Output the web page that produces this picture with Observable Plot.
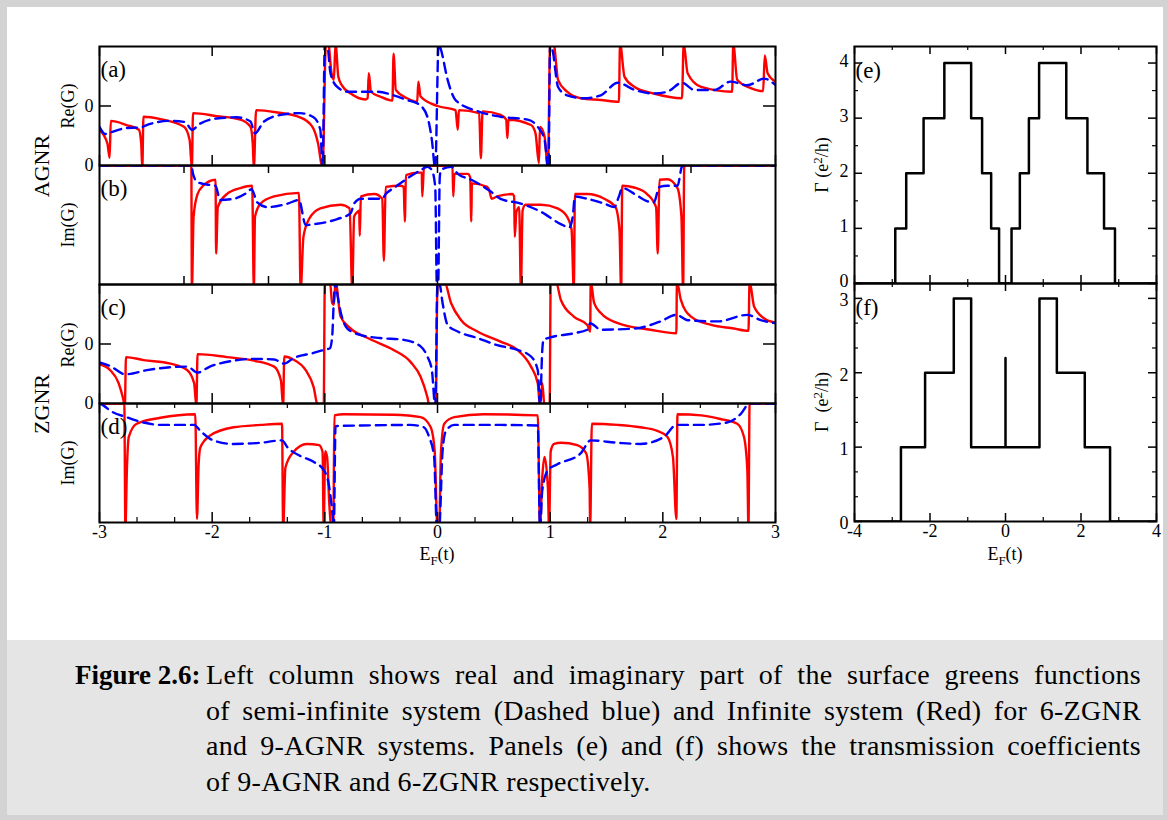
<!DOCTYPE html>
<html><head><meta charset="utf-8">
<script src="https://cdn.jsdelivr.net/npm/d3@7"></script>
<script src="https://cdn.jsdelivr.net/npm/@observablehq/plot@0.6"></script>
<style>
html,body{margin:0;padding:0;}
body{width:1168px;height:820px;background:#d3d3d3;position:relative;overflow:hidden;font-family:"Liberation Serif","Times New Roman",serif;color:#000;}
#fig{position:absolute;left:7px;top:7px;width:1156px;height:633px;background:#fff;}
#cap{position:absolute;left:7px;top:640px;width:1156px;height:175px;background:#e5e5e5;}
.lab{position:absolute;white-space:nowrap;line-height:1;transform:translate(-50%,-50%);}
.rot{transform:translate(-50%,-50%) rotate(-90deg);}
.lab sub{font-size:0.72em;vertical-align:-0.35em;line-height:0;}
.lab sup{font-size:0.72em;vertical-align:0.45em;line-height:0;}
.cl{position:absolute;white-space:nowrap;font-size:28px;line-height:36px;height:36px;letter-spacing:0.3px;}
.just{text-align:justify;text-align-last:justify;white-space:normal;}
svg{position:absolute;}
</style>
</head><body>
<div id="fig"></div>
<div id="cap"></div>
<script>
// ---------------- data ----------------
// Left column: x = E_F (t); y in panel units
const aRed = [[-3.00,-0.40],[-2.93,-0.63],[-2.91,-0.87],[-2.90,-0.25],[-2.76,-0.32],[-2.65,-0.40],[-2.63,-0.63],[-2.62,-1.05],[-2.61,-0.18],[-2.46,-0.22],[-2.25,-0.35],[-2.20,-0.57],[-2.18,-1.05],[-2.17,-0.12],[-1.96,-0.17],[-1.75,-0.23],[-1.66,-0.35],[-1.64,-0.63],[-1.63,-1.05],[-1.61,-0.07],[-1.42,-0.11],[-1.22,-0.19],[-1.11,-0.35],[-1.06,-0.63],[-1.02,-1.05],[-0.99,1.05],[-0.97,1.05],[-0.94,0.55],[-0.92,0.44],[-0.905,1.05],[-0.88,0.49],[-0.85,0.35],[-0.77,0.21],[-0.64,0.11],[-0.62,0.13],[-0.61,0.55],[-0.59,0.24],[-0.51,0.16],[-0.40,0.09],[-0.39,0.88],[-0.37,0.27],[-0.27,0.13],[-0.18,0.07],[-0.17,0.41],[-0.15,0.16],[0.00,0.00],[0.16,-0.07],[0.18,-0.40],[0.19,-0.07],[0.37,-0.12],[0.385,-0.88],[0.40,-0.09],[0.56,-0.15],[0.61,-0.23],[0.62,-0.54],[0.63,-0.23],[0.83,-0.32],[0.87,-0.46],[0.90,-0.96],[0.91,-0.35],[0.95,-0.51],[0.98,-1.05],[1.00,1.05],[1.03,1.05],[1.07,0.44],[1.15,0.24],[1.27,0.13],[1.45,0.10],[1.61,0.07],[1.62,1.05],[1.66,0.49],[1.75,0.32],[1.92,0.21],[2.17,0.13],[2.185,1.05],[2.22,0.55],[2.34,0.32],[2.615,0.24],[2.625,1.05],[2.66,0.44],[2.78,0.30],[2.89,0.25],[2.905,0.85],[2.93,0.55],[3.00,0.41]];
const aBlue = [[-3.00,-0.35],[-2.95,-0.47],[-2.88,-0.43],[-2.76,-0.37],[-2.64,-0.36],[-2.55,-0.30],[-2.37,-0.25],[-2.24,-0.27],[-2.18,-0.40],[-2.11,-0.30],[-1.96,-0.21],[-1.78,-0.19],[-1.66,-0.26],[-1.62,-0.46],[-1.54,-0.26],[-1.39,-0.15],[-1.22,-0.12],[-1.10,-0.19],[-1.04,-0.40],[-1.02,-1.05],[-1.00,1.05],[-0.98,1.05],[-0.95,0.55],[-0.89,0.32],[-0.80,0.24],[-0.53,0.24],[-0.39,0.18],[-0.27,0.10],[-0.16,0.02],[-0.09,-0.18],[-0.05,-0.57],[-0.02,-1.05],[0.01,1.05],[0.03,0.95],[0.09,0.44],[0.16,0.10],[0.36,-0.09],[0.56,-0.18],[0.80,-0.23],[0.89,-0.35],[0.95,-0.57],[0.985,-1.05],[1.00,1.05],[1.02,0.95],[1.07,0.32],[1.15,0.18],[1.30,0.13],[1.45,0.18],[1.60,0.39],[1.75,0.27],[1.92,0.21],[2.04,0.24],[2.17,0.39],[2.28,0.27],[2.46,0.27],[2.60,0.41],[2.75,0.35],[2.90,0.46],[3.00,0.35]];
const bRed = [[-3.00,0],[-2.185,0],[-2.18,-1.05],[-2.165,-0.43],[-2.13,-0.24],[-2.08,-0.17],[-1.97,-0.12],[-1.965,-0.74],[-1.95,-0.35],[-1.87,-0.24],[-1.75,-0.19],[-1.645,-0.17],[-1.63,-1.05],[-1.62,-0.43],[-1.57,-0.32],[-1.45,-0.26],[-1.23,-0.23],[-1.215,-1.05],[-1.19,-0.60],[-1.14,-0.45],[-1.04,-0.36],[-0.86,-0.33],[-0.78,-0.36],[-0.757,-1.05],[-0.74,-0.43],[-0.71,-0.39],[-0.695,-0.38],[-0.69,-0.59],[-0.68,-0.26],[-0.56,-0.24],[-0.49,-0.28],[-0.476,-0.80],[-0.46,-0.18],[-0.33,-0.17],[-0.30,-0.18],[-0.29,-0.47],[-0.28,-0.08],[-0.165,-0.06],[-0.14,-0.06],[-0.135,-0.26],[-0.12,-0.01],[0.00,0],[0.12,-0.01],[0.133,-0.01],[0.14,-0.26],[0.15,-0.07],[0.27,-0.07],[0.29,-0.10],[0.30,-0.47],[0.305,-0.15],[0.44,-0.18],[0.46,-0.21],[0.48,-0.28],[0.53,-0.26],[0.665,-0.24],[0.68,-0.26],[0.686,-0.60],[0.70,-0.39],[0.725,-0.35],[0.74,-1.05],[0.755,-0.38],[0.78,-0.33],[0.92,-0.33],[1.065,-0.36],[1.15,-0.43],[1.19,-0.54],[1.21,-1.05],[1.22,-0.24],[1.33,-0.24],[1.48,-0.28],[1.58,-0.35],[1.615,-0.54],[1.63,-1.05],[1.64,-0.17],[1.745,-0.185],[1.86,-0.24],[1.94,-0.35],[1.955,-0.74],[1.97,-0.12],[2.04,-0.115],[2.13,-0.19],[2.165,-0.43],[2.18,-1.05],[2.19,0],[3.00,0]];
const bBlue = [[-3.00,0],[-2.185,0],[-2.17,-0.07],[-2.13,-0.14],[-2.05,-0.16],[-1.97,-0.17],[-1.93,-0.29],[-1.81,-0.28],[-1.71,-0.24],[-1.65,-0.20],[-1.60,-0.31],[-1.51,-0.35],[-1.33,-0.32],[-1.23,-0.29],[-1.17,-0.50],[-1.07,-0.49],[-0.89,-0.45],[-0.77,-0.40],[-0.74,-0.32],[-0.68,-0.28],[-0.49,-0.28],[-0.46,-0.24],[-0.39,-0.19],[-0.27,-0.11],[-0.15,-0.04],[-0.09,-0.01],[-0.05,-0.04],[-0.02,-0.18],[-0.005,-1.05],[0.005,-1.05],[0.02,-0.10],[0.03,-0.04],[0.12,-0.01],[0.18,-0.07],[0.30,-0.12],[0.46,-0.21],[0.56,-0.28],[0.74,-0.32],[0.92,-0.39],[1.09,-0.49],[1.17,-0.52],[1.20,-0.43],[1.22,-0.26],[1.33,-0.28],[1.48,-0.32],[1.57,-0.35],[1.61,-0.26],[1.64,-0.19],[1.75,-0.24],[1.86,-0.30],[1.92,-0.31],[1.97,-0.18],[2.04,-0.17],[2.13,-0.17],[2.17,-0.01],[2.19,0],[3.00,0]];
const cRed = [[-3.00,-0.34],[-2.905,-0.44],[-2.83,-0.66],[-2.79,-0.92],[-2.775,-1.05],[-2.765,-0.22],[-2.61,-0.27],[-2.37,-0.33],[-2.22,-0.44],[-2.16,-0.66],[-2.14,-1.05],[-2.13,-0.17],[-1.87,-0.22],[-1.63,-0.28],[-1.45,-0.38],[-1.39,-0.61],[-1.37,-1.05],[-1.36,-0.21],[-1.28,-0.26],[-1.17,-0.44],[-1.10,-0.72],[-1.06,-1.05],[-1.01,-1.05],[-1.00,1.05],[-0.955,1.05],[-0.935,0.69],[-0.92,0.66],[-0.905,1.05],[-0.86,0.46],[-0.77,0.26],[-0.62,0.10],[-0.39,-0.10],[-0.24,-0.30],[-0.15,-0.55],[-0.09,-0.89],[-0.07,-1.05],[-0.015,-1.05],[0.00,1.05],[0.06,1.05],[0.12,0.69],[0.21,0.40],[0.355,0.21],[0.56,0.04],[0.71,-0.10],[0.83,-0.38],[0.89,-0.66],[0.91,-1.05],[0.93,-0.66],[0.95,-1.05],[0.995,-1.05],[1.005,1.05],[1.05,1.05],[1.095,0.74],[1.21,0.46],[1.33,0.32],[1.355,0.21],[1.36,1.05],[1.39,0.69],[1.45,0.52],[1.60,0.35],[1.89,0.24],[2.12,0.18],[2.125,1.05],[2.16,0.74],[2.25,0.46],[2.43,0.32],[2.63,0.26],[2.76,0.22],[2.77,1.05],[2.81,0.63],[2.90,0.43],[3.00,0.36]];
const cBlue = [[-3.00,-0.31],[-2.905,-0.37],[-2.77,-0.51],[-2.58,-0.44],[-2.37,-0.39],[-2.22,-0.38],[-2.13,-0.48],[-2.02,-0.38],[-1.81,-0.28],[-1.63,-0.25],[-1.45,-0.26],[-1.36,-0.33],[-1.28,-0.24],[-1.10,-0.15],[-1.01,-0.10],[-0.955,-0.07],[-0.935,0.12],[-0.92,0.74],[-0.905,1.05],[-0.89,0.85],[-0.87,0.63],[-0.80,0.26],[-0.68,0.15],[-0.51,0.10],[-0.30,0.07],[-0.15,-0.04],[-0.09,-0.21],[-0.05,-0.44],[-0.02,-1.05],[0.00,1.05],[0.02,1.0],[0.045,0.69],[0.09,0.32],[0.18,0.21],[0.355,0.10],[0.53,-0.02],[0.71,-0.10],[0.83,-0.21],[0.89,-0.44],[0.91,-1.05],[0.93,-0.10],[0.94,0.07],[0.98,0.10],[1.21,0.18],[1.33,0.24],[1.355,0.35],[1.45,0.24],[1.75,0.26],[1.98,0.38],[2.12,0.49],[2.22,0.40],[2.49,0.38],[2.75,0.49],[2.87,0.40],[3.00,0.35]];
const dRed = [[-3.00,0],[-2.78,0],[-2.77,-1.05],[-2.757,-0.56],[-2.74,-0.28],[-2.67,-0.17],[-2.46,-0.12],[-2.15,-0.09],[-2.135,-0.97],[-2.12,-0.51],[-2.105,-0.37],[-2.02,-0.27],[-1.81,-0.20],[-1.57,-0.18],[-1.38,-0.17],[-1.37,-1.05],[-1.35,-0.54],[-1.28,-0.41],[-1.16,-0.34],[-1.05,-0.35],[-1.02,-0.41],[-1.01,-1.05],[-0.997,-0.40],[-0.98,-0.45],[-0.96,-0.85],[-0.94,-1.05],[-0.925,-1.05],[-0.915,-0.10],[-0.83,-0.09],[-0.39,-0.095],[-0.15,-0.115],[-0.06,-0.20],[-0.025,-0.40],[0.00,-1.05],[0.015,-1.05],[0.03,-0.42],[0.06,-0.17],[0.15,-0.115],[0.41,-0.09],[0.89,-0.10],[0.91,-1.05],[0.93,-0.62],[0.95,-0.45],[0.98,-0.71],[0.99,-1.05],[1.005,-0.40],[1.035,-0.34],[1.095,-0.33],[1.24,-0.35],[1.32,-0.42],[1.35,-0.71],[1.355,-1.05],[1.37,-0.17],[1.60,-0.18],[1.80,-0.20],[1.95,-0.23],[2.04,-0.28],[2.09,-0.45],[2.12,-0.97],[2.13,-0.09],[2.34,-0.10],[2.51,-0.13],[2.66,-0.17],[2.72,-0.28],[2.75,-0.56],[2.76,-1.05],[2.77,0],[3.00,0]];
const dBlue = [[-3.00,0],[-2.96,-0.02],[-2.905,-0.06],[-2.76,-0.115],[-2.61,-0.16],[-2.46,-0.18],[-2.16,-0.18],[-2.105,-0.23],[-1.99,-0.31],[-1.81,-0.34],[-1.57,-0.33],[-1.38,-0.31],[-1.33,-0.37],[-1.22,-0.44],[-1.10,-0.49],[-1.01,-0.56],[-0.965,-0.68],[-0.935,-0.90],[-0.92,-1.05],[-0.905,-0.19],[-0.68,-0.185],[-0.24,-0.18],[-0.12,-0.20],[-0.075,-0.28],[-0.03,-0.45],[-0.005,-1.05],[0.015,-1.05],[0.045,-0.40],[0.075,-0.23],[0.15,-0.18],[0.56,-0.18],[0.89,-0.185],[0.91,-1.05],[0.93,-0.73],[0.98,-0.56],[1.065,-0.51],[1.27,-0.42],[1.36,-0.31],[1.60,-0.33],[1.80,-0.34],[2.01,-0.28],[2.12,-0.18],[2.34,-0.18],[2.57,-0.16],[2.69,-0.09],[2.77,0],[3.00,0]];

// Right column: transmission steps (x = E_F, y = Gamma), drawn step-after
const eE = [-4,-2.92,-2.63,-2.17,-1.62,-0.91,-0.62,-0.38,-0.17,0.16,0.38,0.62,0.89,1.61,2.17,2.61,2.90,4];
const eG = [0,1,2,3,4,3,2,1,0,1,2,3,4,3,2,1,0,0];
const fE = [-4,-2.77,-2.13,-1.37,-0.91,0,0,0.90,1.36,2.10,2.77,4];
const fG = [0,1,2,3,1,2.2,1,3,2,1,0,0];

// Ticks and labels
const leftXMajor = [-3,-2,-1,0,1,2,3];
const leftXMinor = [-2.667,-2.333,-1.667,-1.333,-0.667,-0.333,0.333,0.667,1.333,1.667,2.333,2.667];
const bXTicks = [-2.25,-1.5,-0.75,0,0.75,1.5,2.25];
const leftXLabels = ["-3","-2","-1","0","1","2","3"];
const reYTicks = [0];
const reYTickVals = [0,-1];
const reYTickText = ["0","0"];
const rightXMajor = [-4,-2,0,2,4];
const rightXMinor = [-3,-1,1,3];
const rightXLabels = ["-4","-2","0","2","4"];
const eYMajor = [0,1,2,3,4];
const eYMinor = [0.5,1.5,2.5,3.5];
const fYMajor = [0,1,2,3];
const fYMinor = [0.333,0.667,1.333,1.667,2.333,2.667];
const panelLabels = ["(a)","(b)","(c)","(d)","(e)","(f)"];
const sideTitles = ["AGNR","ZGNR"];
const leftYTitles = ["Re(G)","Im(G)","Re(G)","Im(G)"];
const rightYTitles = ["\u0393 (e<sup>2</sup>/h)","\u0393&nbsp;&nbsp;(e<sup>2</sup>/h)"];
const xTitle = "E<sub>F</sub>(t)";
const captionHead = "Figure 2.6:";
const captionLines = [
  "Left column shows real and imaginary part of the surface greens functions",
  "of semi-infinite system (Dashed blue) and Infinite system (Red) for 6-ZGNR",
  "and 9-AGNR systems. Panels (e) and (f) shows the transmission coefficients",
  "of 9-AGNR and 6-ZGNR respectively."
];

// ---------------- drawing ----------------
const M = 40;
const RED = "#ff0000", BLUE = "#0000ff";
function place(svg, x0, y0) {
  svg.style.left = (x0 - M) + "px";
  svg.style.top = (y0 - M) + "px";
  document.body.appendChild(svg);
}
function xTicks(vals, len, h, sw) {
  return [
    Plot.tickX(vals, {x: d => d, insetTop: h - len, stroke: "#000", strokeWidth: sw}),
    Plot.tickX(vals, {x: d => d, insetBottom: h - len, stroke: "#000", strokeWidth: sw})
  ];
}
function yTicks(vals, len, w, sw) {
  return [
    Plot.tickY(vals, {y: d => d, insetRight: w - len, stroke: "#000", strokeWidth: sw}),
    Plot.tickY(vals, {y: d => d, insetLeft: w - len, stroke: "#000", strokeWidth: sw})
  ];
}
const STYLE = {background: "transparent", fontFamily: '"Liberation Serif", "Times New Roman", serif', fontSize: "18px", color: "#000", overflow: "visible"};

function leftPanel(i, y0, red, blue, yDomain, extra) {
  const w = 676, h = 119;
  const svg = Plot.plot({
    width: w + 2*M, height: h + 2*M, margin: M,
    x: {domain: [-3, 3], axis: null}, y: {domain: yDomain, axis: null},
    style: STYLE,
    marks: [
      Plot.line(red, {x: d => d[0], y: d => d[1], curve: "monotone-x", stroke: RED, strokeWidth: 2.4, clip: true}),
      Plot.line(blue, {x: d => d[0], y: d => d[1], curve: "monotone-x", stroke: BLUE, strokeWidth: 2.4, strokeDasharray: "10,6", clip: true}),
      ...extra(w, h),
      Plot.text([panelLabels[i]], {text: d => d, frameAnchor: "top-left", textAnchor: "start", dx: 1, dy: 14, fontSize: 23}),
      Plot.frame({stroke: "#000", strokeWidth: 2})
    ]
  });
  place(svg, 99, y0);
}

leftPanel(0, 46, aRed, aBlue, [-1, 1], (w, h) => [
  ...xTicks(leftXMajor, 10, h, 1.5), ...yTicks(reYTicks, 12, w, 1.5),
  Plot.text(reYTickVals, {y: d => d, text: (d, j) => reYTickText[j], frameAnchor: "left", textAnchor: "end", dx: -6})
]);
leftPanel(1, 165, bRed, bBlue, [-1, 0], (w, h) => [
  ...xTicks(bXTicks, 8, h, 1.5)
]);
leftPanel(2, 284, cRed, cBlue, [-1, 1], (w, h) => [
  ...xTicks(leftXMajor, 10, h, 1.5), ...yTicks(reYTicks, 12, w, 1.5),
  Plot.text(reYTickVals, {y: d => d, text: (d, j) => reYTickText[j], frameAnchor: "left", textAnchor: "end", dx: -6})
]);
leftPanel(3, 403, dRed, dBlue, [-1, 0], (w, h) => [
  ...xTicks(leftXMajor, 10, h, 1.5), ...xTicks(leftXMinor, 5, h, 1.2),
  Plot.text(leftXMajor, {x: d => d, text: (d, j) => leftXLabels[j], frameAnchor: "bottom", dy: 15})
]);

function rightPanel(i, y0, h, E, G, yMax, yMajor, yMinor, showX, labelNudge) {
  const w = 302;
  const pts = E.map((e, j) => [e, G[j]]);
  const svg = Plot.plot({
    width: w + 2*M, height: h + 2*M, margin: M,
    x: {domain: [-4, 4], axis: null}, y: {domain: [0, yMax], axis: null},
    style: STYLE,
    marks: [
      Plot.line(pts, {x: d => d[0], y: d => d[1], curve: "step-after", stroke: "#000", strokeWidth: 2.5, clip: true}),
      ...xTicks(rightXMajor, 8, h, 1.5), ...xTicks(rightXMinor, 4, h, 1.2),
      ...yTicks(yMajor, 8, w, 1.5), ...yTicks(yMinor, 4, w, 1.2),
      Plot.text(yMajor, {y: d => d, text: d => String(d), frameAnchor: "left", textAnchor: "end", dx: -6, dy: labelNudge}),
      ...(showX ? [Plot.text(rightXMajor, {x: d => d, text: (d, j) => rightXLabels[j], frameAnchor: "bottom", dy: 15})] : []),
      Plot.text([panelLabels[i]], {text: d => d, frameAnchor: "top-left", textAnchor: "start", dx: 1, dy: 15, fontSize: 23}),
      Plot.frame({stroke: "#000", strokeWidth: 2})
    ]
  });
  place(svg, 854, y0);
}
rightPanel(4, 46, 237, eE, eG, 4.3, eYMajor, eYMinor, false, -2);
rightPanel(5, 283, 238, fE, fG, 3.2, fYMajor, fYMinor, true, 2);

// ---------------- HTML labels ----------------
function label(html, x, y, size, rot) {
  const d = document.createElement("div");
  d.className = "lab" + (rot ? " rot" : "");
  d.style.left = x + "px"; d.style.top = y + "px"; d.style.fontSize = size + "px";
  d.innerHTML = html;
  document.body.appendChild(d);
}
label(sideTitles[0], 42, 166, 22, true);
label(sideTitles[1], 42, 404, 22, true);
[106, 225, 345, 463].forEach((y, j) => label(leftYTitles[j], 68, y, 18, true));
label(rightYTitles[0], 822, 165, 18, true);
label(rightYTitles[1], 822, 402, 18, true);
label(xTitle, 437, 554, 18, false);
label(xTitle, 1005, 554, 18, false);

// caption
const head = document.createElement("div");
head.className = "cl"; head.style.left = "75px"; head.style.top = "657px"; head.style.fontWeight = "bold";
head.style.fontSize = "27px"; head.style.letterSpacing = "0px";
head.textContent = captionHead;
document.body.appendChild(head);
captionLines.forEach((t, j) => {
  const d = document.createElement("div");
  d.className = "cl" + (j < 3 ? " just" : "");
  d.style.left = "206px"; d.style.top = (657 + j * 35.5) + "px";
  if (j < 3) d.style.width = "935px";
  d.textContent = t;
  document.body.appendChild(d);
});
</script>
</body></html>
